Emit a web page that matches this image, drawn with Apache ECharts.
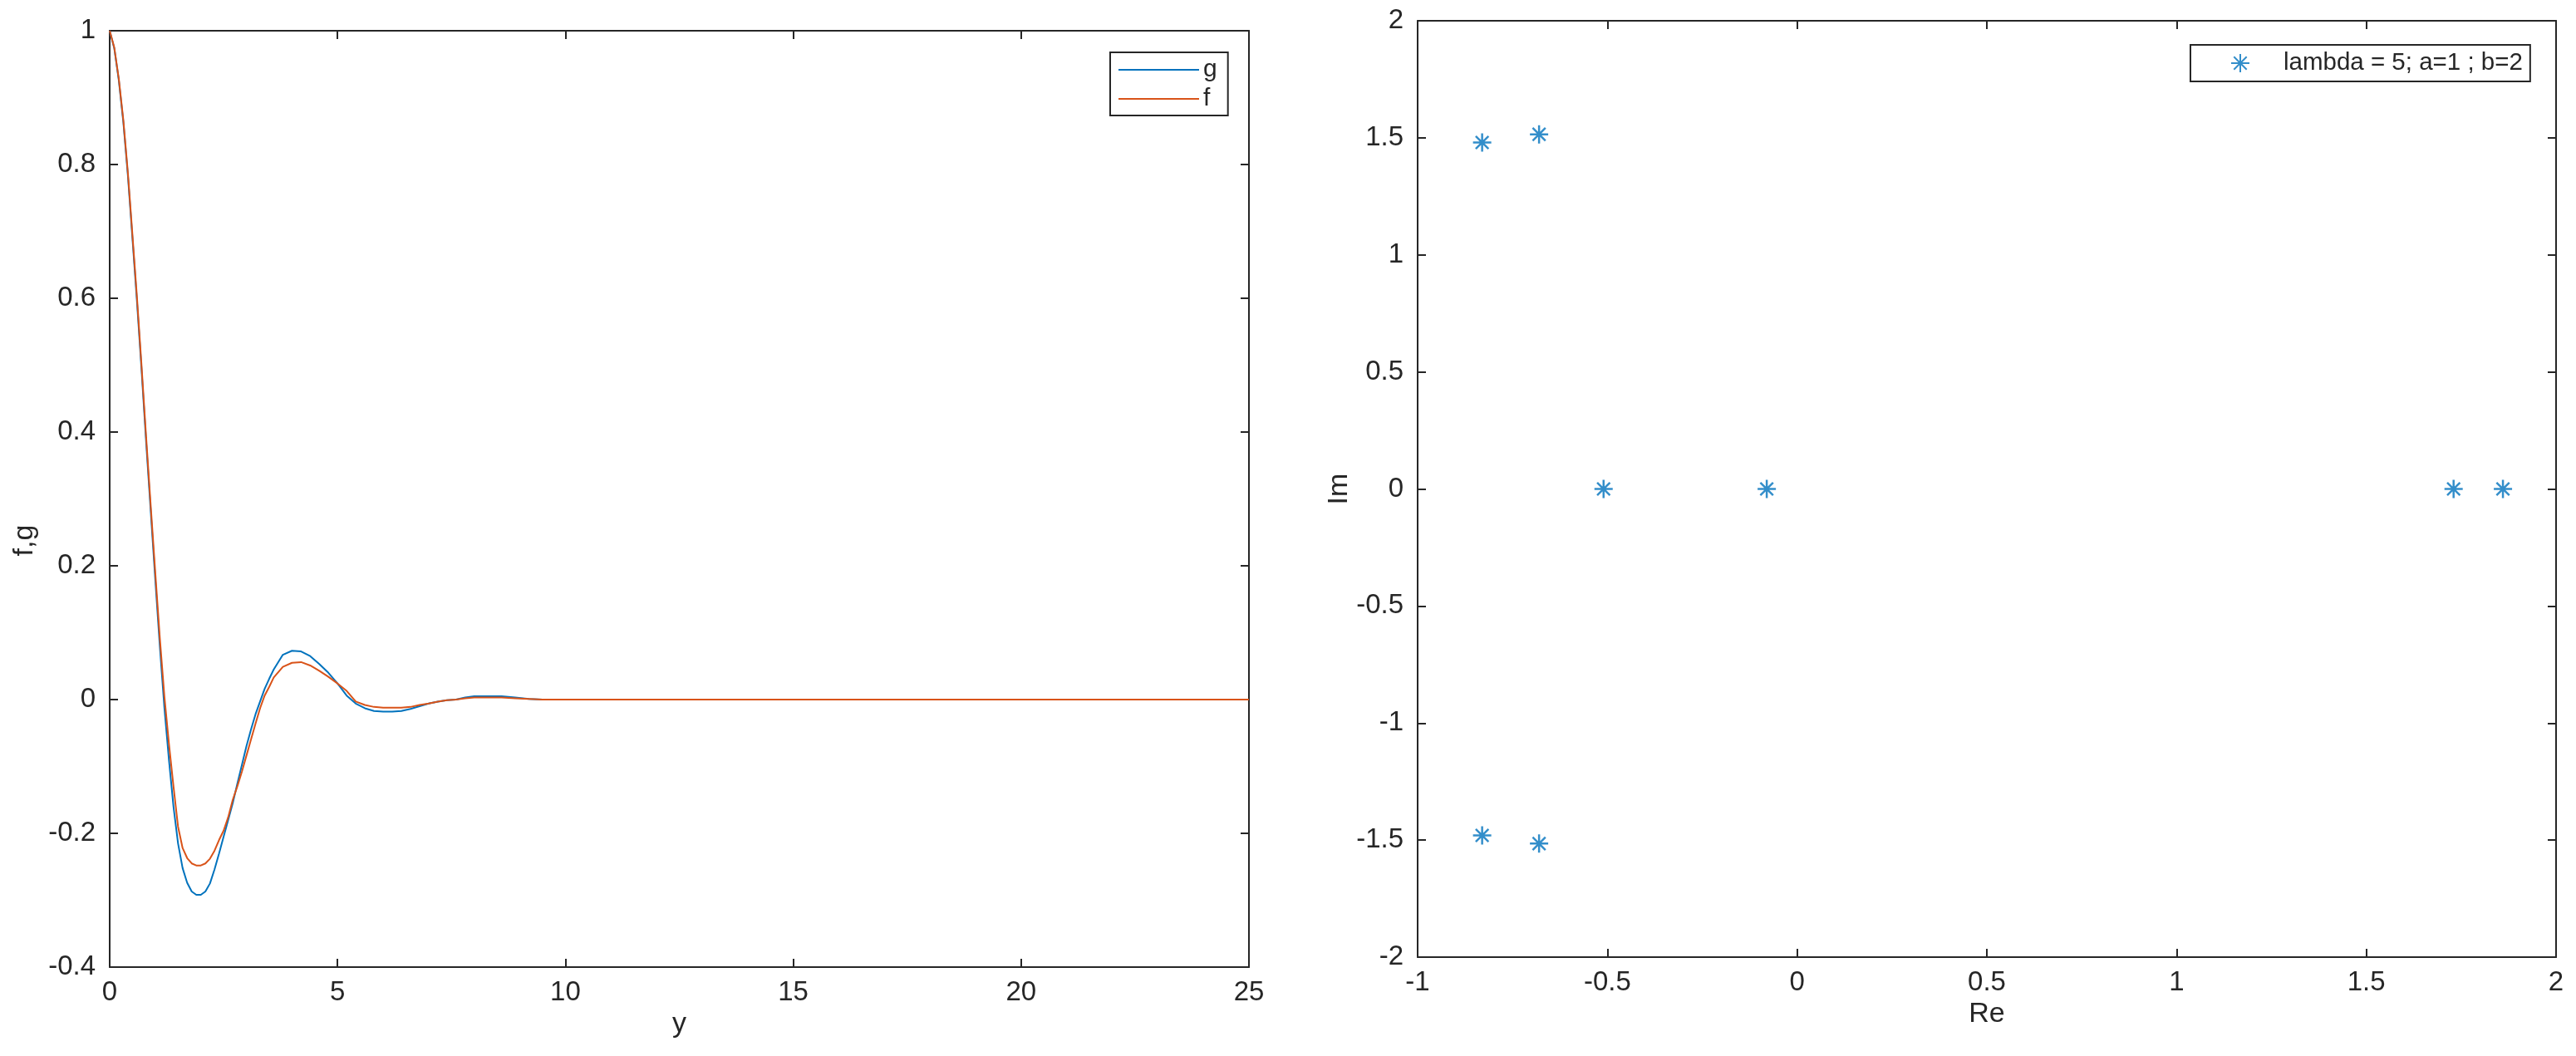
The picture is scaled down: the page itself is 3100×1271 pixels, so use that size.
<!DOCTYPE html>
<html>
<head>
<meta charset="utf-8">
<script src="https://cdn.jsdelivr.net/npm/echarts@6/dist/echarts.min.js"></script>
<style>
  html, body { margin: 0; padding: 0; background: #fff; }
  #chart { width: 3100px; height: 1271px; }
</style>
</head>
<body>
<div id="chart"></div>
<script>
// left panel: f and g against y
const yGrid = [0, 0.1, 0.2, 0.3, 0.4, 0.5, 0.6, 0.7, 0.8, 0.9, 1.0, 1.1, 1.2, 1.3, 1.4, 1.5, 1.6, 1.7, 1.8, 1.9,
  2.0, 2.1, 2.2, 2.3, 2.4, 2.5, 2.6, 2.7, 2.8, 2.9, 3.0, 3.1, 3.2, 3.3, 3.4, 3.5, 3.6, 3.8, 4.0, 4.2,
  4.4, 4.6, 4.8, 5.0, 5.2, 5.4, 5.6, 5.8, 6.0, 6.2, 6.4, 6.6, 6.8, 7.0, 7.2, 7.4, 7.6, 7.8, 8.0, 8.3,
  8.6, 8.9, 9.2, 9.5, 10, 15, 20, 25];
const gVals = [1.0, 0.974, 0.926, 0.863, 0.783, 0.689, 0.594, 0.492, 0.385, 0.282, 0.180, 0.080, -0.012, -0.090, -0.160, -0.215, -0.252, -0.274, -0.287, -0.292,
  -0.292, -0.287, -0.275, -0.254, -0.230, -0.205, -0.180, -0.155, -0.126, -0.098, -0.070, -0.045, -0.022, -0.003, 0.016, 0.031, 0.045, 0.067, 0.073, 0.072,
  0.065, 0.053, 0.040, 0.024, 0.006, -0.006, -0.013, -0.017, -0.018, -0.018, -0.017, -0.014, -0.010, -0.006, -0.003, -0.001, 0.000, 0.003, 0.005, 0.005,
  0.005, 0.003, 0.001, 0, 0, 0, 0, 0];
const fVals = [1.0, 0.975, 0.928, 0.866, 0.787, 0.694, 0.600, 0.498, 0.392, 0.290, 0.190, 0.092, 0.005, -0.066, -0.130, -0.190, -0.222, -0.237, -0.245, -0.248,
  -0.248, -0.245, -0.238, -0.226, -0.210, -0.196, -0.176, -0.150, -0.130, -0.108, -0.084, -0.060, -0.036, -0.013, 0.006, 0.019, 0.033, 0.049, 0.055, 0.056,
  0.051, 0.043, 0.034, 0.024, 0.013, -0.003, -0.008, -0.011, -0.012, -0.012, -0.012, -0.011, -0.008, -0.006, -0.003, -0.001, 0.000, 0.002, 0.003, 0.003,
  0.003, 0.002, 0.001, 0, 0, 0, 0, 0];

// right panel: eigenvalues in the complex plane
const reVals = [-0.83, -0.68, -0.51, -0.08, 1.73, 1.86, -0.83, -0.68];
const imVals = [1.48, 1.515, 0, 0, 0, 0, -1.48, -1.515];

const ink = '#262626';
const blue = '#0072BD';
const orange = '#D95319';
const font = 'Liberation Sans, Arial, sans-serif';
const starPath = 'path://M10,0L10,20M0,10L20,10M3,3L17,17M17,3L3,17';

const fmt = v => String(Math.round(v * 10) / 10);

function axisBase(extra) {
  return Object.assign({
    type: 'value',
    axisLine: { onZero: false, lineStyle: { color: ink, width: 2 } },
    axisTick: { inside: true, length: 10, lineStyle: { color: ink, width: 2 } },
    splitLine: { show: false },
    axisLabel: { color: ink, fontSize: 33, fontFamily: font, formatter: fmt }
  }, extra);
}
function mirror(extra) {
  // unlabelled twin axis for the box outline
  return axisBase(Object.assign({ axisLabel: { show: false } }, extra));
}

const option = {
  backgroundColor: '#fff',
  animation: false,
  grid: [
    { left: 132, top: 37, width: 1371, height: 1127 },
    { left: 1706, top: 25, width: 1370, height: 1127 }
  ],
  xAxis: [
    axisBase({ gridIndex: 0, min: 0, max: 25, interval: 5, name: 'y', nameLocation: 'middle', nameGap: 44,
      nameTextStyle: { color: ink, fontSize: 34, fontFamily: font }, axisLabel: { color: ink, fontSize: 33, fontFamily: font, margin: 14, formatter: fmt } }),
    mirror({ gridIndex: 0, min: 0, max: 25, interval: 5, position: 'top' }),
    axisBase({ gridIndex: 1, min: -1, max: 2, interval: 0.5, name: 'Re', nameLocation: 'middle', nameGap: 50,
      nameTextStyle: { color: ink, fontSize: 34, fontFamily: font }, axisLabel: { color: ink, fontSize: 33, fontFamily: font, margin: 14, formatter: fmt } }),
    mirror({ gridIndex: 1, min: -1, max: 2, interval: 0.5, position: 'top' })
  ],
  yAxis: [
    axisBase({ gridIndex: 0, min: -0.4, max: 1, interval: 0.2, name: 'f,g', nameLocation: 'middle', nameGap: 85, nameRotate: 90,
      nameTextStyle: { color: ink, fontSize: 34, fontFamily: font, padding: [0, 100, 0, 0] },
      axisLabel: { color: ink, fontSize: 33, fontFamily: font, margin: 17, formatter: fmt } }),
    mirror({ gridIndex: 0, min: -0.4, max: 1, interval: 0.2, position: 'right' }),
    axisBase({ gridIndex: 1, min: -2, max: 2, interval: 0.5, name: 'Im', nameLocation: 'middle', nameGap: 66, nameRotate: 90,
      nameTextStyle: { color: ink, fontSize: 34, fontFamily: font }, axisLabel: { color: ink, fontSize: 33, fontFamily: font, margin: 17, formatter: fmt } }),
    mirror({ gridIndex: 1, min: -2, max: 2, interval: 0.5, position: 'right' })
  ],
  legend: [
    {
      data: ['g', 'f'],
      orient: 'vertical',
      left: 1336, top: 63,
      padding: [6, 13, 5, 9],
      itemWidth: 97, itemHeight: 14, itemGap: 5,
      itemStyle: { opacity: 0 },
      borderColor: ink, borderWidth: 2, backgroundColor: '#fff',
      textStyle: { color: ink, fontSize: 30, fontFamily: font }
    },
    {
      data: ['lambda = 5; a=1 ; b=2'],
      left: 2636, top: 54,
      padding: [7, 9, 7, 48],
      itemWidth: 22, itemHeight: 22,
      borderColor: ink, borderWidth: 2, backgroundColor: '#fff',
      textStyle: { color: ink, fontSize: 29.5, fontFamily: font, padding: [0, 0, 0, 36] }
    }
  ],
  series: [
    {
      name: 'g', type: 'line', xAxisIndex: 0, yAxisIndex: 0,
      symbol: 'none', lineStyle: { color: blue, width: 2 }, itemStyle: { color: blue },
      data: yGrid.map((x, i) => [x, gVals[i]])
    },
    {
      name: 'f', type: 'line', xAxisIndex: 0, yAxisIndex: 0,
      symbol: 'none', lineStyle: { color: orange, width: 2 }, itemStyle: { color: orange },
      data: yGrid.map((x, i) => [x, fVals[i]])
    },
    {
      name: 'lambda = 5; a=1 ; b=2', type: 'scatter', xAxisIndex: 2, yAxisIndex: 2,
      symbol: starPath, symbolSize: 22,
      itemStyle: { color: 'rgba(0,0,0,0)', borderColor: blue, borderWidth: 2.5 },
      data: reVals.map((x, i) => [x, imVals[i]])
    }
  ]
};

const chart = echarts.init(document.getElementById('chart'));
chart.setOption(option);
</script>
</body>
</html>
